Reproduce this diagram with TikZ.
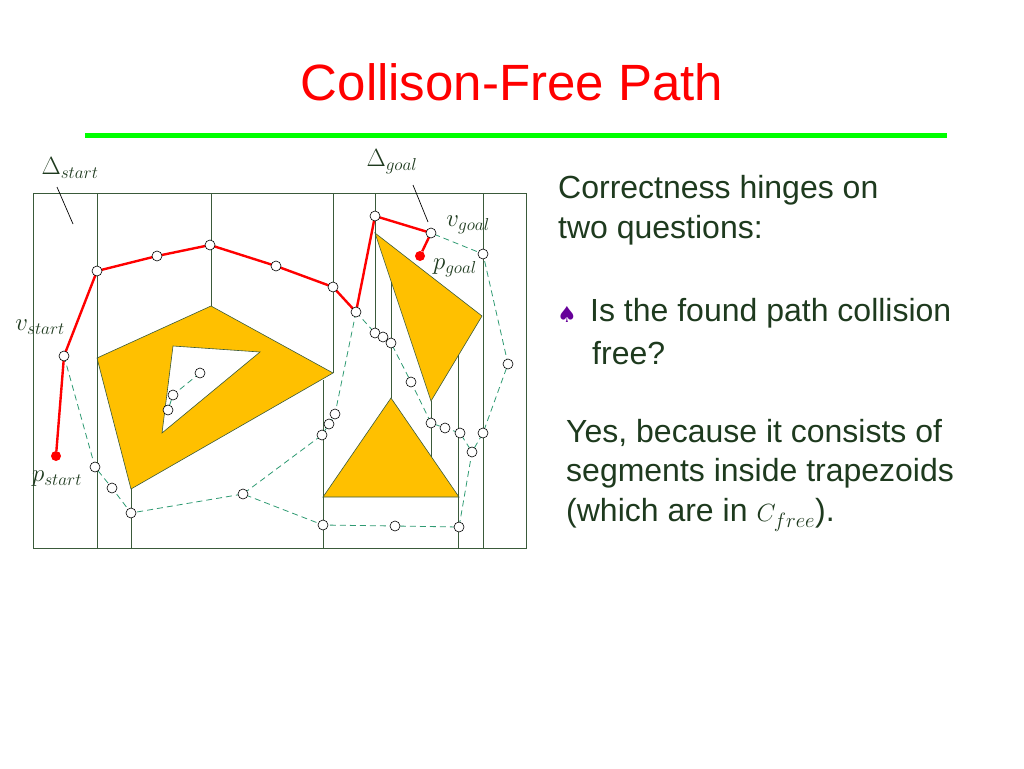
\documentclass[tikz,border=0pt]{standalone}
\usepackage{fontspec}
\setmainfont{Liberation Sans}
\newfontfamily\symf{DejaVu Sans}
\begin{document}
\begin{tikzpicture}[x=1pt,y=-1pt,
  rpath/.style={draw=red,line width=2.4pt},
  vtx/.style={circle,draw=black,fill=white,inner sep=0pt,minimum size=10pt,line width=0.6pt},
  pt/.style={circle,fill=red,inner sep=0pt,minimum size=10pt},
  lbl/.style={font=\fontsize{26}{30}\selectfont},
  txt/.style={font=\fontsize{32}{38}\selectfont,anchor=west,inner sep=0pt}]
\definecolor{obf}{HTML}{FFC000}
\definecolor{wl}{HTML}{3A5A3A}
\definecolor{dg}{HTML}{2E9A72}
\definecolor{tx}{HTML}{1E3A1E}
\useasboundingbox (0,0) rectangle (1024,768);
\node[text=red,font=\fontsize{51}{56}\selectfont] (title) at (512,82) {Collison-Free Path};
\draw[green,line width=5pt] (85,135) coordinate (gl1) -- (947,135) coordinate (gl2);
% obstacles
\fill[obf,draw=wl,line width=0.6pt,even odd rule] (97,358) -- (211,306) -- (333,373) -- (131,489) -- cycle
  (173,346) -- (260,352) -- (162,433) -- cycle;
\filldraw[fill=obf,draw=wl,line width=0.6pt] (375,233) -- (482,316) -- (431,401) -- cycle;
\filldraw[fill=obf,draw=wl,line width=0.6pt] (391,398) -- (459,497) -- (323,497) -- cycle;
% box and walls
\draw[draw=wl,line width=1pt] (33,193) rectangle (526,548);
\foreach \a/\b/\c in {97/193/548,211/193/306,131/489/548,333/193/373,323/380/548,375/193/333,391/282/398,431/401/457,458/355/548,483/193/548}
  \draw[draw=wl,line width=1pt] (\a,\b) -- (\a,\c);
% vertices
\foreach \n/\x/\y in {vs/64/356,r1/97/271,r2/157/256,r3/210/245,r4/276/266,r5/333/287,r6/356/312,r7/375/216,vg/431/233,
 d1/95/467,d2/112/488,d3/131/513,d4/243/494,d5/323/525,d6/395/526,d7/459/527,d8/472/452,d9/483/433,d10/508/364,d11/483/254,
 e1/335/414,e2/329/424,e3/322/435,f1/375/333,f2/383/337,f3/391/343,f4/411/382,f5/431/423,f6/445/428,f7/460/433,
 h1/200/373,h2/173/395,h3/168/410}
  \coordinate (\n) at (\x,\y);
\tikzset{dp/.style={dg,dash pattern=on 6pt off 4pt,line width=0.8pt}}
\draw[dp] (vs)--(d1)--(d2)--(d3)--(d4)--(d5)--(d6)--(d7)--(d8)--(d9)--(d10)--(d11)--(vg);
\draw[dp] (r6)--(e1)--(e2)--(e3)--(d4);
\draw[dp] (r6)--(f1)--(f2)--(f3)--(f4)--(f5)--(f6)--(f7)--(d8);
\draw[dp] (h1)--(h2)--(h3);
\node[pt] (ps) at (56,456) {};
\node[pt] (pg) at (420,256) {};
\draw[rpath] (ps)--(vs)--(r1)--(r2)--(r3)--(r4)--(r5)--(r6)--(r7)--(vg)--(pg);
\foreach \n in {vs,r1,r2,r3,r4,r5,r6,r7,vg,d1,d2,d3,d4,d5,d6,d7,d8,d9,d10,d11,e1,e2,e3,f1,f2,f3,f4,f5,f6,f7,h1,h2,h3}
  \node[vtx] at (\n) {};
% labels
\node[lbl,text=tx] (dst) at (70,168) {$\Delta_{start}$};
\node[lbl,text=tx] (dgo) at (392,162) {$\Delta_{goal}$};
\draw[black,line width=0.7pt] (57,187) -- (73,224);
\draw[black,line width=0.7pt] (413,185) -- (428,222);
\node[lbl,text=tx] (lvg) at (468,225) {$v_{goal}$};
\node[lbl,text=tx] (lpg) at (455,268) {$p_{goal}$};
\node[lbl,text=tx] (lvs) at (40,327) {$v_{start}$};
\node[lbl,text=tx] (lps) at (57,479) {$p_{start}$};
% text
\node[txt,text=tx] (t1) at (558,190) {Correctness hinges on};
\node[txt,text=tx] (t2) at (558,230) {two questions:};
\node[text=violet!80!blue,font=\symf\fontsize{22}{26}\selectfont,inner sep=0pt] (sp) at (567,314) {♠};
\node[txt,text=tx] (t3) at (590,313) {Is the found path collision};
\node[txt,text=tx] (t4) at (592,353) {free?};
\node[txt,text=tx] (t5) at (566,433) {Yes, because it consists of};
\node[txt,text=tx] (t6) at (566,473) {segments inside trapezoids};
\node[txt,text=tx] (t7) at (566,515) {(which are in $C_{free}$).};
\end{tikzpicture}
\end{document}
